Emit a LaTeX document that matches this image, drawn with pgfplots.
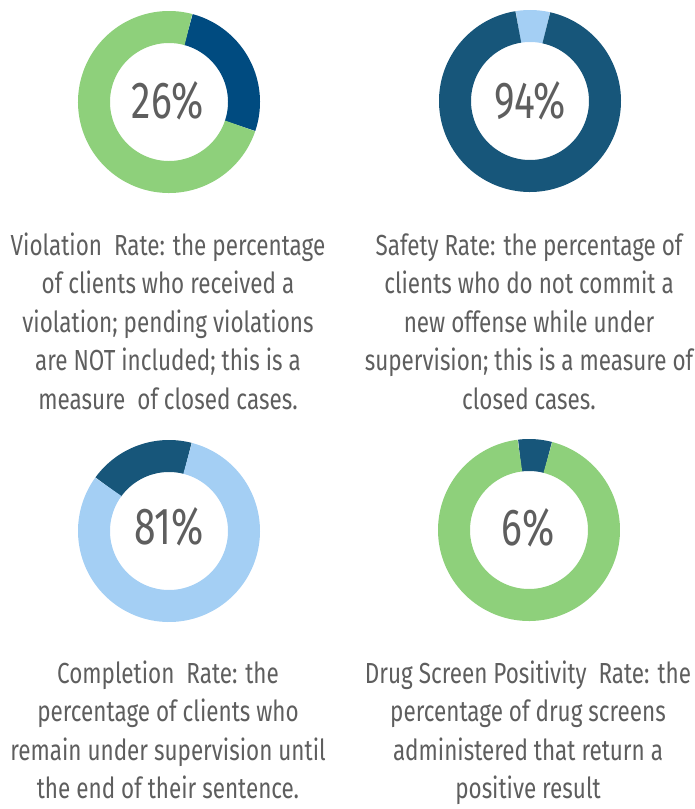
\documentclass[border=0pt]{standalone}
\usepackage{pgfplots}
\pgfplotsset{compat=1.18}
\usepgfplotslibrary{polar}
\usepackage{fontspec}
\setmainfont{Fira Sans}[FakeStretch=0.775]
\newfontfamily\pctfont{Fira Sans}[FakeStretch=0.75]
\definecolor{cgreen}{HTML}{8ED07B}
\definecolor{cnavy}{HTML}{004B80}
\definecolor{cteal}{HTML}{17567A}
\definecolor{clight}{HTML}{A4CFF4}
\definecolor{ctext}{HTML}{5E5E5E}
\pgfplotsset{donut/.style={scale only axis, width=182pt, ymin=0, ymax=91, hide axis, clip=false, anchor=center},
  ring/.style={line width=32pt, samples=120, no marks}}
\newcommand{\capl}[3]{\node[anchor=base, text=ctext, font=\fontsize{29}{35}\selectfont, inner sep=0pt] at (#1pt,-#2pt) {#3};}
\newcommand{\pct}[3]{\node[anchor=base, text=ctext, font=\pctfont\fontsize{52}{60}\selectfont, inner sep=0pt] at (#1pt,-#2pt) {#3};}
\begin{document}
\begin{tikzpicture}[x=1pt,y=1pt]
\path[use as bounding box] (0,0) rectangle (695,-809);
% Violation rate 26%
\begin{polaraxis}[donut, at={(169pt,-102pt)}]
\addplot[ring, draw=cnavy, domain={75-26*3.6}:75] (\x,75);
\addplot[ring, draw=cgreen, domain={75-360}:{75-26*3.6}] (\x,75);
\end{polaraxis}
% Safety rate 94%
\begin{polaraxis}[donut, at={(530pt,-101pt)}]
\addplot[ring, draw=clight, domain={99-6*3.6}:99] (\x,75);
\addplot[ring, draw=cteal, domain={99-360}:{99-6*3.6}] (\x,75);
\end{polaraxis}
% Completion rate 81%
\begin{polaraxis}[donut, at={(169pt,-531pt)}]
\addplot[ring, draw=cteal, domain={144-19*3.6}:144] (\x,75);
\addplot[ring, draw=clight, domain={144-360}:{144-19*3.6}] (\x,75);
\end{polaraxis}
% Drug screen positivity 6%
\begin{polaraxis}[donut, at={(529pt,-530pt)}]
\addplot[ring, draw=cteal, domain={97-6*3.6}:97] (\x,75);
\addplot[ring, draw=cgreen, domain={97-360}:{97-6*3.6}] (\x,75);
\end{polaraxis}
\pct{168}{118}{26\%}
\pct{530}{118}{94\%}
\pct{169}{544}{81\%}
\pct{528}{545}{6\%}
\capl{168}{255}{Violation\ \ Rate: the percentage}
\capl{168}{293.5}{of clients who received a}
\capl{168}{332}{violation; pending violations}
\capl{168}{370.5}{are NOT included; this is a}
\capl{168}{409}{measure\ \ of closed cases.}
\capl{529}{255}{Safety Rate: the percentage of}
\capl{529}{293.5}{clients who do not commit a}
\capl{529}{332}{new offense while under}
\capl{529}{370.5}{supervision; this is a measure of}
\capl{529}{409}{closed cases.}
\capl{168}{683}{Completion\ \ Rate: the}
\capl{168}{721.5}{percentage of clients who}
\capl{168}{760}{remain under supervision until}
\capl{168}{798.5}{the end of their sentence.}
\capl{528}{683}{Drug Screen Positivity\ \ Rate: the}
\capl{528}{721.5}{percentage of drug screens}
\capl{528}{760}{administered that return a}
\capl{528}{798.5}{positive result}
\end{tikzpicture}
\end{document}
